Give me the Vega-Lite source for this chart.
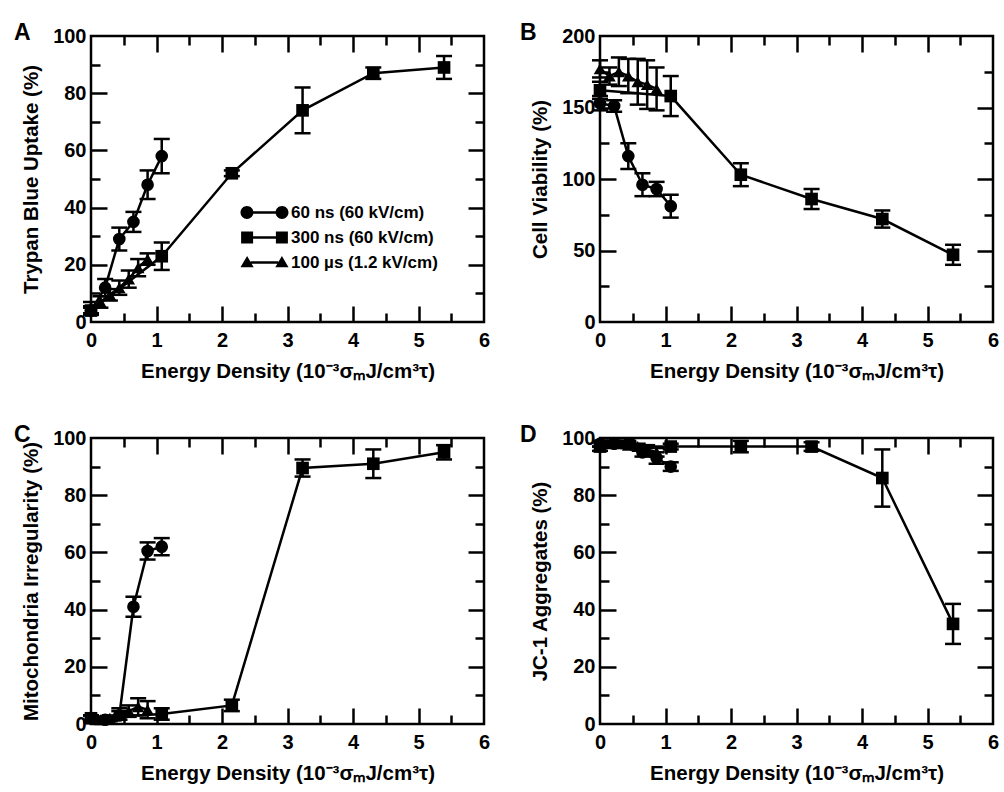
{
"$schema": "https://vega.github.io/schema/vega-lite/v6.json",
"background": "white",
"padding": {"left": 12, "top": 20, "right": 5, "bottom": 0},
"config": {
 "view": {"stroke": "black", "strokeWidth": 2.5},
 "font": "Liberation Sans",
 "axis": {"domain": false, "grid": false, "tickColor": "black", "tickOpacity": 1, "tickWidth": 2.5, "labelFont": "Liberation Sans", "labelFontSize": 20, "labelFontWeight": "bold", "labelColor": "black", "titleFont": "Liberation Sans", "titleFontSize": 20.5, "titleFontWeight": "bold", "titleColor": "black", "labelFlush": false, "labelOverlap": false}
},
"datasets": {"d": [
{"p":"A","s":"60 ns (60 kV/cm)","x":0,"y":4,"lo":2.5,"hi":5.5},
{"p":"A","s":"60 ns (60 kV/cm)","x":0.216,"y":12,"lo":9,"hi":15},
{"p":"A","s":"60 ns (60 kV/cm)","x":0.432,"y":29,"lo":25,"hi":33},
{"p":"A","s":"60 ns (60 kV/cm)","x":0.648,"y":35,"lo":31.5,"hi":38.5},
{"p":"A","s":"60 ns (60 kV/cm)","x":0.864,"y":48,"lo":43,"hi":53},
{"p":"A","s":"60 ns (60 kV/cm)","x":1.08,"y":58,"lo":52,"hi":64},
{"p":"A","s":"300 ns (60 kV/cm)","x":0,"y":4,"lo":3,"hi":5},
{"p":"A","s":"300 ns (60 kV/cm)","x":1.08,"y":23,"lo":18.2,"hi":27.8},
{"p":"A","s":"300 ns (60 kV/cm)","x":2.15,"y":52,"lo":51,"hi":53},
{"p":"A","s":"300 ns (60 kV/cm)","x":3.23,"y":74,"lo":66,"hi":82},
{"p":"A","s":"300 ns (60 kV/cm)","x":4.31,"y":87,"lo":85,"hi":89},
{"p":"A","s":"300 ns (60 kV/cm)","x":5.39,"y":89,"lo":85,"hi":93},
{"p":"A","s":"100 µs (1.2 kV/cm)","x":0,"y":5,"lo":3,"hi":7},
{"p":"A","s":"100 µs (1.2 kV/cm)","x":0.144,"y":7,"lo":5,"hi":9},
{"p":"A","s":"100 µs (1.2 kV/cm)","x":0.288,"y":9.5,"lo":7.5,"hi":11.5},
{"p":"A","s":"100 µs (1.2 kV/cm)","x":0.432,"y":12,"lo":9.5,"hi":14.5},
{"p":"A","s":"100 µs (1.2 kV/cm)","x":0.576,"y":15,"lo":12,"hi":18},
{"p":"A","s":"100 µs (1.2 kV/cm)","x":0.72,"y":19,"lo":16,"hi":22},
{"p":"A","s":"100 µs (1.2 kV/cm)","x":0.864,"y":22,"lo":20,"hi":24},
{"p":"B","s":"60 ns (60 kV/cm)","x":0,"y":153,"lo":148,"hi":158},
{"p":"B","s":"60 ns (60 kV/cm)","x":0.216,"y":151,"lo":147,"hi":155},
{"p":"B","s":"60 ns (60 kV/cm)","x":0.432,"y":116,"lo":107,"hi":125},
{"p":"B","s":"60 ns (60 kV/cm)","x":0.648,"y":96,"lo":88,"hi":104},
{"p":"B","s":"60 ns (60 kV/cm)","x":0.864,"y":93,"lo":88,"hi":98},
{"p":"B","s":"60 ns (60 kV/cm)","x":1.08,"y":81,"lo":73,"hi":89},
{"p":"B","s":"300 ns (60 kV/cm)","x":0,"y":162,"lo":156,"hi":168},
{"p":"B","s":"300 ns (60 kV/cm)","x":1.08,"y":158,"lo":144,"hi":172},
{"p":"B","s":"300 ns (60 kV/cm)","x":2.15,"y":103,"lo":95,"hi":111},
{"p":"B","s":"300 ns (60 kV/cm)","x":3.23,"y":86,"lo":79,"hi":93},
{"p":"B","s":"300 ns (60 kV/cm)","x":4.31,"y":72,"lo":66,"hi":78},
{"p":"B","s":"300 ns (60 kV/cm)","x":5.39,"y":47,"lo":40,"hi":54},
{"p":"B","s":"100 µs (1.2 kV/cm)","x":0,"y":177,"lo":171,"hi":183},
{"p":"B","s":"100 µs (1.2 kV/cm)","x":0.144,"y":172,"lo":166,"hi":178},
{"p":"B","s":"100 µs (1.2 kV/cm)","x":0.288,"y":175,"lo":165,"hi":185},
{"p":"B","s":"100 µs (1.2 kV/cm)","x":0.432,"y":172,"lo":160,"hi":184},
{"p":"B","s":"100 µs (1.2 kV/cm)","x":0.576,"y":168,"lo":152,"hi":184},
{"p":"B","s":"100 µs (1.2 kV/cm)","x":0.72,"y":166,"lo":149,"hi":183},
{"p":"B","s":"100 µs (1.2 kV/cm)","x":0.864,"y":163,"lo":148,"hi":178},
{"p":"C","s":"60 ns (60 kV/cm)","x":0,"y":2,"lo":1,"hi":3},
{"p":"C","s":"60 ns (60 kV/cm)","x":0.216,"y":1.5,"lo":0.5,"hi":2.5},
{"p":"C","s":"60 ns (60 kV/cm)","x":0.432,"y":3,"lo":1.5,"hi":4.5},
{"p":"C","s":"60 ns (60 kV/cm)","x":0.648,"y":41,"lo":37.5,"hi":44.5},
{"p":"C","s":"60 ns (60 kV/cm)","x":0.864,"y":60.5,"lo":57.5,"hi":63.5},
{"p":"C","s":"60 ns (60 kV/cm)","x":1.08,"y":62,"lo":59,"hi":65},
{"p":"C","s":"300 ns (60 kV/cm)","x":0,"y":2,"lo":1,"hi":3},
{"p":"C","s":"300 ns (60 kV/cm)","x":1.08,"y":3.5,"lo":1.5,"hi":5.5},
{"p":"C","s":"300 ns (60 kV/cm)","x":2.15,"y":6.5,"lo":4.5,"hi":8.5},
{"p":"C","s":"300 ns (60 kV/cm)","x":3.23,"y":89.5,"lo":86.5,"hi":92.5},
{"p":"C","s":"300 ns (60 kV/cm)","x":4.31,"y":91,"lo":86,"hi":96},
{"p":"C","s":"300 ns (60 kV/cm)","x":5.39,"y":95,"lo":92.5,"hi":97.5},
{"p":"C","s":"100 µs (1.2 kV/cm)","x":0,"y":2,"lo":1,"hi":3},
{"p":"C","s":"100 µs (1.2 kV/cm)","x":0.144,"y":1.5,"lo":0.5,"hi":2.5},
{"p":"C","s":"100 µs (1.2 kV/cm)","x":0.288,"y":2,"lo":1,"hi":3},
{"p":"C","s":"100 µs (1.2 kV/cm)","x":0.432,"y":3.5,"lo":1.5,"hi":5.5},
{"p":"C","s":"100 µs (1.2 kV/cm)","x":0.576,"y":4.5,"lo":2.5,"hi":6.5},
{"p":"C","s":"100 µs (1.2 kV/cm)","x":0.72,"y":6,"lo":3,"hi":9},
{"p":"C","s":"100 µs (1.2 kV/cm)","x":0.864,"y":5,"lo":2,"hi":8},
{"p":"D","s":"60 ns (60 kV/cm)","x":0,"y":98,"lo":97,"hi":99},
{"p":"D","s":"60 ns (60 kV/cm)","x":0.216,"y":98,"lo":97,"hi":99},
{"p":"D","s":"60 ns (60 kV/cm)","x":0.432,"y":98,"lo":97,"hi":99},
{"p":"D","s":"60 ns (60 kV/cm)","x":0.648,"y":95,"lo":93.5,"hi":96.5},
{"p":"D","s":"60 ns (60 kV/cm)","x":0.864,"y":93,"lo":91,"hi":95},
{"p":"D","s":"60 ns (60 kV/cm)","x":1.08,"y":90,"lo":88.5,"hi":91.5},
{"p":"D","s":"300 ns (60 kV/cm)","x":0,"y":97,"lo":95.5,"hi":98.5},
{"p":"D","s":"300 ns (60 kV/cm)","x":1.08,"y":97,"lo":96,"hi":98},
{"p":"D","s":"300 ns (60 kV/cm)","x":2.15,"y":97,"lo":95,"hi":99},
{"p":"D","s":"300 ns (60 kV/cm)","x":3.23,"y":97,"lo":95.5,"hi":98.5},
{"p":"D","s":"300 ns (60 kV/cm)","x":4.31,"y":86,"lo":76,"hi":96},
{"p":"D","s":"300 ns (60 kV/cm)","x":5.39,"y":35,"lo":28,"hi":42},
{"p":"D","s":"100 µs (1.2 kV/cm)","x":0,"y":98,"lo":97,"hi":99},
{"p":"D","s":"100 µs (1.2 kV/cm)","x":0.144,"y":98,"lo":97,"hi":99},
{"p":"D","s":"100 µs (1.2 kV/cm)","x":0.288,"y":98,"lo":97,"hi":99},
{"p":"D","s":"100 µs (1.2 kV/cm)","x":0.432,"y":97.5,"lo":96.5,"hi":98.5},
{"p":"D","s":"100 µs (1.2 kV/cm)","x":0.576,"y":97,"lo":96,"hi":98},
{"p":"D","s":"100 µs (1.2 kV/cm)","x":0.72,"y":96,"lo":94.5,"hi":97.5},
{"p":"D","s":"100 µs (1.2 kV/cm)","x":0.864,"y":95,"lo":93.5,"hi":96.5}
]},
"data": {"name": "d"},
"columns": 2,
"spacing": 116,
"bounds": "flush",
"concat": [
{
 "width": 393, "height": 286,
 "title": {"text": "A", "anchor": "start", "frame": "group", "dx": -77, "dy": 4, "offset": -33, "baseline": "alphabetic", "fontSize": 23, "fontWeight": "bold", "font": "Liberation Sans", "color": "black"},
 "transform": [{"filter": "datum.p == 'A'"}],
 "resolve": {"axis": {"x": "independent", "y": "independent"}, "scale": {"shape": "independent"}},
 "layer": [
  {"mark": {"type": "errorbar", "color": "black", "ticks": {"color": "black", "opacity": 1}, "rule": {"color": "black"}, "size": 16, "thickness": 2.5},
   "encoding": {"x": {"field": "x", "type": "quantitative", "scale": {"domain": [0, 6]}, "axis": null},
    "y": {"field": "lo", "type": "quantitative", "scale": {"domain": [0, 100]}, "axis": null},
    "y2": {"field": "hi"}}},
  {"mark": {"type": "line", "color": "black", "strokeWidth": 2.5},
   "encoding": {"x": {"field": "x", "type": "quantitative", "axis": {"orient": "bottom", "values": [0,1,2,3,4,5,6], "ticks": false, "labelPadding": 8, "title": "Energy Density (10⁻³σₘJ/cm³τ)", "titlePadding": 11}},
    "y": {"field": "y", "type": "quantitative", "axis": {"orient": "left", "values": [0,20,40,60,80,100], "ticks": false, "labelPadding": 5, "title": "Trypan Blue Uptake (%)", "titlePadding": 11}},
    "detail": {"field": "s"}}},
  {"mark": {"type": "point", "filled": true, "color": "black", "opacity": 1, "size": 160},
   "encoding": {"x": {"field": "x", "type": "quantitative", "axis": {"orient": "top", "values": [1,2,3,4,5], "ticks": true, "tickSize": -16, "zindex": 1, "tickColor": "black", "labels": false, "title": null}},
    "y": {"field": "y", "type": "quantitative", "axis": {"orient": "right", "values": [20,40,60,80], "ticks": true, "tickSize": -16, "zindex": 1, "tickColor": "black", "labels": false, "title": null}},
    "shape": {"field": "s", "type": "nominal", "scale": {"domain": ["60 ns (60 kV/cm)", "300 ns (60 kV/cm)", "100 µs (1.2 kV/cm)"], "range": ["circle", "square", "triangle-up"]}, "legend": null}}},
  {"mark": {"type": "point", "filled": true, "color": "black", "opacity": 0},
   "encoding": {"x": {"field": "x", "type": "quantitative", "axis": {"orient": "bottom", "values": [1,2,3,4,5], "ticks": true, "tickSize": -16, "zindex": 1, "tickColor": "black", "labels": false, "title": null}},
    "y": {"field": "y", "type": "quantitative", "axis": {"orient": "left", "values": [20,40,60,80], "ticks": true, "tickSize": -16, "zindex": 1, "tickColor": "black", "labels": false, "title": null}},
    "shape": {"field": "s", "type": "nominal", "scale": {"domain": ["60 ns (60 kV/cm)", "300 ns (60 kV/cm)", "100 µs (1.2 kV/cm)"], "range": ["M-4,0 A1.08,1.08 0 1,1 -1.84,0 A1.08,1.08 0 1,1 -4,0 Z M1.84,0 A1.08,1.08 0 1,1 4,0 A1.08,1.08 0 1,1 1.84,0 Z M-1.9,-0.2 L1.9,-0.2 L1.9,0.2 L-1.9,0.2 Z", "M-3.9,-1 L-1.9,-1 L-1.9,1 L-3.9,1 Z M1.9,-1 L3.9,-1 L3.9,1 L1.9,1 Z M-1.9,-0.2 L1.9,-0.2 L1.9,0.2 L-1.9,0.2 Z", "M-2.9,-1.1 L-1.8,0.8 L-4,0.8 Z M2.9,-1.1 L4,0.8 L1.8,0.8 Z M-2.3,-0.2 L2.3,-0.2 L2.3,0.2 L-2.3,0.2 Z"]},
     "legend": {"orient": "none", "legendX": 165, "legendY": 168, "title": null, "padding": 0, "symbolSize": 144, "symbolOpacity": 1, "labelOffset": 18, "rowPadding": 7, "labelFontSize": 17, "labelFontWeight": "bold", "labelFont": "Liberation Sans", "labelColor": "black", "symbolFillColor": "black", "symbolStrokeColor": "black", "symbolStrokeWidth": 0}}}},
  {"mark": {"type": "point", "opacity": 0},
   "encoding": {"x": {"field": "x", "type": "quantitative", "axis": {"orient": "top", "values": [0.5,1.5,2.5,3.5,4.5,5.5], "ticks": true, "tickSize": -9, "zindex": 1, "tickColor": "black", "labels": false, "title": null}},
    "y": {"field": "y", "type": "quantitative", "axis": {"orient": "right", "values": [10,30,50,70,90], "ticks": true, "tickSize": -9, "zindex": 1, "tickColor": "black", "labels": false, "title": null}}}},
  {"mark": {"type": "point", "opacity": 0},
   "encoding": {"x": {"field": "x", "type": "quantitative", "axis": {"orient": "bottom", "values": [0.5,1.5,2.5,3.5,4.5,5.5], "ticks": true, "tickSize": -9, "zindex": 1, "tickColor": "black", "labels": false, "title": null}},
    "y": {"field": "y", "type": "quantitative", "axis": {"orient": "left", "values": [10,30,50,70,90], "ticks": true, "tickSize": -9, "zindex": 1, "tickColor": "black", "labels": false, "title": null}}}}
 ]
},
{
 "width": 393, "height": 286,
 "title": {"text": "B", "anchor": "start", "frame": "group", "dx": -80, "dy": 4, "offset": -33, "baseline": "alphabetic", "fontSize": 23, "fontWeight": "bold", "font": "Liberation Sans", "color": "black"},
 "transform": [{"filter": "datum.p == 'B'"}],
 "resolve": {"axis": {"x": "independent", "y": "independent"}},
 "layer": [
  {"mark": {"type": "errorbar", "color": "black", "ticks": {"color": "black", "opacity": 1}, "rule": {"color": "black"}, "size": 16, "thickness": 2.5},
   "encoding": {"x": {"field": "x", "type": "quantitative", "scale": {"domain": [0, 6]}, "axis": null},
    "y": {"field": "lo", "type": "quantitative", "scale": {"domain": [0, 200]}, "axis": null},
    "y2": {"field": "hi"}}},
  {"mark": {"type": "line", "color": "black", "strokeWidth": 2.5},
   "encoding": {"x": {"field": "x", "type": "quantitative", "axis": {"orient": "bottom", "values": [0,1,2,3,4,5,6], "ticks": false, "labelPadding": 8, "title": "Energy Density (10⁻³σₘJ/cm³τ)", "titlePadding": 11}},
    "y": {"field": "y", "type": "quantitative", "axis": {"orient": "left", "values": [0,50,100,150,200], "ticks": false, "labelPadding": 5, "title": "Cell Viability (%)", "titlePadding": 11}},
    "detail": {"field": "s"}}},
  {"mark": {"type": "point", "filled": true, "color": "black", "opacity": 1, "size": 160},
   "encoding": {"x": {"field": "x", "type": "quantitative", "axis": {"orient": "top", "values": [1,2,3,4,5], "ticks": true, "tickSize": -16, "zindex": 1, "tickColor": "black", "labels": false, "title": null}},
    "y": {"field": "y", "type": "quantitative", "axis": {"orient": "right", "values": [50,100,150], "ticks": true, "tickSize": -16, "zindex": 1, "tickColor": "black", "labels": false, "title": null}},
    "shape": {"field": "s", "type": "nominal", "scale": {"domain": ["60 ns (60 kV/cm)", "300 ns (60 kV/cm)", "100 µs (1.2 kV/cm)"], "range": ["circle", "square", "triangle-up"]}, "legend": null}}},
  {"mark": {"type": "point", "opacity": 0},
   "encoding": {"x": {"field": "x", "type": "quantitative", "axis": {"orient": "bottom", "values": [1,2,3,4,5], "ticks": true, "tickSize": -16, "zindex": 1, "tickColor": "black", "labels": false, "title": null}},
    "y": {"field": "y", "type": "quantitative", "axis": {"orient": "left", "values": [50,100,150], "ticks": true, "tickSize": -16, "zindex": 1, "tickColor": "black", "labels": false, "title": null}}}},
  {"mark": {"type": "point", "opacity": 0},
   "encoding": {"x": {"field": "x", "type": "quantitative", "axis": {"orient": "top", "values": [0.5,1.5,2.5,3.5,4.5,5.5], "ticks": true, "tickSize": -9, "zindex": 1, "tickColor": "black", "labels": false, "title": null}},
    "y": {"field": "y", "type": "quantitative", "axis": {"orient": "right", "values": [25,75,125,175], "ticks": true, "tickSize": -9, "zindex": 1, "tickColor": "black", "labels": false, "title": null}}}},
  {"mark": {"type": "point", "opacity": 0},
   "encoding": {"x": {"field": "x", "type": "quantitative", "axis": {"orient": "bottom", "values": [0.5,1.5,2.5,3.5,4.5,5.5], "ticks": true, "tickSize": -9, "zindex": 1, "tickColor": "black", "labels": false, "title": null}},
    "y": {"field": "y", "type": "quantitative", "axis": {"orient": "left", "values": [25,75,125,175], "ticks": true, "tickSize": -9, "zindex": 1, "tickColor": "black", "labels": false, "title": null}}}}
 ]
},
{
 "width": 393, "height": 286,
 "title": {"text": "C", "anchor": "start", "frame": "group", "dx": -77, "dy": 4, "offset": -33, "baseline": "alphabetic", "fontSize": 23, "fontWeight": "bold", "font": "Liberation Sans", "color": "black"},
 "transform": [{"filter": "datum.p == 'C'"}],
 "resolve": {"axis": {"x": "independent", "y": "independent"}},
 "layer": [
  {"mark": {"type": "errorbar", "color": "black", "ticks": {"color": "black", "opacity": 1}, "rule": {"color": "black"}, "size": 16, "thickness": 2.5},
   "encoding": {"x": {"field": "x", "type": "quantitative", "scale": {"domain": [0, 6]}, "axis": null},
    "y": {"field": "lo", "type": "quantitative", "scale": {"domain": [0, 100]}, "axis": null},
    "y2": {"field": "hi"}}},
  {"mark": {"type": "line", "color": "black", "strokeWidth": 2.5},
   "encoding": {"x": {"field": "x", "type": "quantitative", "axis": {"orient": "bottom", "values": [0,1,2,3,4,5,6], "ticks": false, "labelPadding": 8, "title": "Energy Density (10⁻³σₘJ/cm³τ)", "titlePadding": 11}},
    "y": {"field": "y", "type": "quantitative", "axis": {"orient": "left", "values": [0,20,40,60,80,100], "ticks": false, "labelPadding": 5, "title": "Mitochondria Irregularity (%)", "titlePadding": 11}},
    "detail": {"field": "s"}}},
  {"mark": {"type": "point", "filled": true, "color": "black", "opacity": 1, "size": 160},
   "encoding": {"x": {"field": "x", "type": "quantitative", "axis": {"orient": "top", "values": [1,2,3,4,5], "ticks": true, "tickSize": -16, "zindex": 1, "tickColor": "black", "labels": false, "title": null}},
    "y": {"field": "y", "type": "quantitative", "axis": {"orient": "right", "values": [20,40,60,80], "ticks": true, "tickSize": -16, "zindex": 1, "tickColor": "black", "labels": false, "title": null}},
    "shape": {"field": "s", "type": "nominal", "scale": {"domain": ["60 ns (60 kV/cm)", "300 ns (60 kV/cm)", "100 µs (1.2 kV/cm)"], "range": ["circle", "square", "triangle-up"]}, "legend": null}}},
  {"mark": {"type": "point", "opacity": 0},
   "encoding": {"x": {"field": "x", "type": "quantitative", "axis": {"orient": "bottom", "values": [1,2,3,4,5], "ticks": true, "tickSize": -16, "zindex": 1, "tickColor": "black", "labels": false, "title": null}},
    "y": {"field": "y", "type": "quantitative", "axis": {"orient": "left", "values": [20,40,60,80], "ticks": true, "tickSize": -16, "zindex": 1, "tickColor": "black", "labels": false, "title": null}}}},
  {"mark": {"type": "point", "opacity": 0},
   "encoding": {"x": {"field": "x", "type": "quantitative", "axis": {"orient": "top", "values": [0.5,1.5,2.5,3.5,4.5,5.5], "ticks": true, "tickSize": -9, "zindex": 1, "tickColor": "black", "labels": false, "title": null}},
    "y": {"field": "y", "type": "quantitative", "axis": {"orient": "right", "values": [10,30,50,70,90], "ticks": true, "tickSize": -9, "zindex": 1, "tickColor": "black", "labels": false, "title": null}}}},
  {"mark": {"type": "point", "opacity": 0},
   "encoding": {"x": {"field": "x", "type": "quantitative", "axis": {"orient": "bottom", "values": [0.5,1.5,2.5,3.5,4.5,5.5], "ticks": true, "tickSize": -9, "zindex": 1, "tickColor": "black", "labels": false, "title": null}},
    "y": {"field": "y", "type": "quantitative", "axis": {"orient": "left", "values": [10,30,50,70,90], "ticks": true, "tickSize": -9, "zindex": 1, "tickColor": "black", "labels": false, "title": null}}}}
 ]
},
{
 "width": 393, "height": 286,
 "title": {"text": "D", "anchor": "start", "frame": "group", "dx": -80, "dy": 4, "offset": -33, "baseline": "alphabetic", "fontSize": 23, "fontWeight": "bold", "font": "Liberation Sans", "color": "black"},
 "transform": [{"filter": "datum.p == 'D'"}],
 "resolve": {"axis": {"x": "independent", "y": "independent"}},
 "layer": [
  {"mark": {"type": "errorbar", "color": "black", "ticks": {"color": "black", "opacity": 1}, "rule": {"color": "black"}, "size": 16, "thickness": 2.5},
   "encoding": {"x": {"field": "x", "type": "quantitative", "scale": {"domain": [0, 6]}, "axis": null},
    "y": {"field": "lo", "type": "quantitative", "scale": {"domain": [0, 100]}, "axis": null},
    "y2": {"field": "hi"}}},
  {"mark": {"type": "line", "color": "black", "strokeWidth": 2.5},
   "encoding": {"x": {"field": "x", "type": "quantitative", "axis": {"orient": "bottom", "values": [0,1,2,3,4,5,6], "ticks": false, "labelPadding": 8, "title": "Energy Density (10⁻³σₘJ/cm³τ)", "titlePadding": 11}},
    "y": {"field": "y", "type": "quantitative", "axis": {"orient": "left", "values": [0,20,40,60,80,100], "ticks": false, "labelPadding": 5, "title": "JC-1 Aggregates (%)", "titlePadding": 11}},
    "detail": {"field": "s"}}},
  {"mark": {"type": "point", "filled": true, "color": "black", "opacity": 1, "size": 160},
   "encoding": {"x": {"field": "x", "type": "quantitative", "axis": {"orient": "top", "values": [1,2,3,4,5], "ticks": true, "tickSize": -16, "zindex": 1, "tickColor": "black", "labels": false, "title": null}},
    "y": {"field": "y", "type": "quantitative", "axis": {"orient": "right", "values": [20,40,60,80], "ticks": true, "tickSize": -16, "zindex": 1, "tickColor": "black", "labels": false, "title": null}},
    "shape": {"field": "s", "type": "nominal", "scale": {"domain": ["60 ns (60 kV/cm)", "300 ns (60 kV/cm)", "100 µs (1.2 kV/cm)"], "range": ["circle", "square", "triangle-up"]}, "legend": null}}},
  {"mark": {"type": "point", "opacity": 0},
   "encoding": {"x": {"field": "x", "type": "quantitative", "axis": {"orient": "bottom", "values": [1,2,3,4,5], "ticks": true, "tickSize": -16, "zindex": 1, "tickColor": "black", "labels": false, "title": null}},
    "y": {"field": "y", "type": "quantitative", "axis": {"orient": "left", "values": [20,40,60,80], "ticks": true, "tickSize": -16, "zindex": 1, "tickColor": "black", "labels": false, "title": null}}}},
  {"mark": {"type": "point", "opacity": 0},
   "encoding": {"x": {"field": "x", "type": "quantitative", "axis": {"orient": "top", "values": [0.5,1.5,2.5,3.5,4.5,5.5], "ticks": true, "tickSize": -9, "zindex": 1, "tickColor": "black", "labels": false, "title": null}},
    "y": {"field": "y", "type": "quantitative", "axis": {"orient": "right", "values": [10,30,50,70,90], "ticks": true, "tickSize": -9, "zindex": 1, "tickColor": "black", "labels": false, "title": null}}}},
  {"mark": {"type": "point", "opacity": 0},
   "encoding": {"x": {"field": "x", "type": "quantitative", "axis": {"orient": "bottom", "values": [0.5,1.5,2.5,3.5,4.5,5.5], "ticks": true, "tickSize": -9, "zindex": 1, "tickColor": "black", "labels": false, "title": null}},
    "y": {"field": "y", "type": "quantitative", "axis": {"orient": "left", "values": [10,30,50,70,90], "ticks": true, "tickSize": -9, "zindex": 1, "tickColor": "black", "labels": false, "title": null}}}}
 ]
}
]
}
